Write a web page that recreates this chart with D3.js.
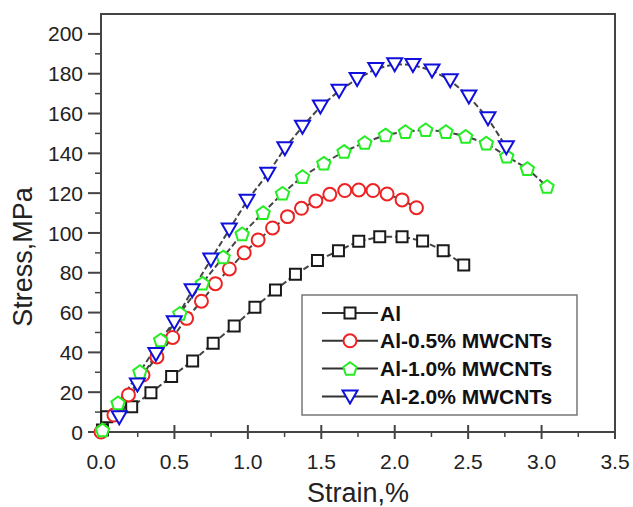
<!DOCTYPE html>
<html>
<head>
<meta charset="UTF-8">
<title>Stress-strain curves</title>
<script src="https://d3js.org/d3.v7.min.js"></script>
<style>
  html, body { margin: 0; padding: 0; background: #fff; }
  svg { display: block; font-family: 'Liberation Sans', Arial, sans-serif; }
  .tick-label { font-size: 21px; fill: #222; }
  .axis-title { font-size: 27px; fill: #222; }
  .legend-text { font-size: 21px; font-weight: bold; fill: #111; }
</style>
</head>
<body>
<svg id="chart" width="633" height="507"></svg>
<script>
// --- data ---
const xTicks = [0.0, 0.5, 1.0, 1.5, 2.0, 2.5, 3.0, 3.5];
const yTicks = [0, 20, 40, 60, 80, 100, 120, 140, 160, 180, 200];

const alStrain = [0.01, 0.039, 0.209, 0.34, 0.481, 0.624, 0.764, 0.907, 1.048, 1.188, 1.324, 1.474, 1.617, 1.755, 1.898, 2.05, 2.19, 2.33, 2.47];
const alStress = [1, 7.7, 12.7, 19.7, 27.9, 35.7, 44.6, 53.3, 62.7, 71.4, 79.2, 86.1, 91.1, 95.8, 98.1, 98.1, 96.0, 91.1, 83.9];

const al05Strain = [0.0, 0.088, 0.187, 0.286, 0.381, 0.488, 0.583, 0.684, 0.779, 0.874, 0.975, 1.07, 1.168, 1.27, 1.365, 1.463, 1.558, 1.66, 1.755, 1.852, 1.948, 2.05, 2.148];
const al05Stress = [0, 8.5, 18.6, 28.6, 37.7, 47.5, 57.1, 65.7, 74.5, 81.9, 90.0, 96.5, 102.5, 108.2, 112.4, 116.1, 119.4, 121.3, 121.6, 121.3, 119.6, 116.6, 112.7];

const al10Strain = [0.01, 0.116, 0.265, 0.406, 0.537, 0.69, 0.832, 0.961, 1.104, 1.236, 1.372, 1.517, 1.655, 1.796, 1.937, 2.073, 2.211, 2.349, 2.483, 2.624, 2.763, 2.903, 3.037];
const al10Stress = [1, 14.6, 30.3, 46.2, 59.6, 74.7, 87.9, 99.5, 110.2, 119.9, 128.3, 135.0, 140.9, 145.4, 149.2, 150.9, 151.8, 150.9, 148.5, 145.1, 138.5, 132.3, 123.3];

const al20Strain = [0.124, 0.248, 0.374, 0.499, 0.621, 0.748, 0.873, 0.995, 1.136, 1.252, 1.372, 1.494, 1.621, 1.744, 1.871, 2.0, 2.124, 2.254, 2.378, 2.505, 2.635, 2.76];
const al20Stress = [7.4, 23.9, 39.2, 55.2, 71.2, 86.6, 101.7, 116.2, 129.8, 142.6, 153.4, 163.5, 171.4, 177.4, 182.4, 184.8, 184.4, 181.6, 176.7, 168.5, 157.6, 143.1];

const seriesNames = ["Al", "Al-0.5% MWCNTs", "Al-1.0% MWCNTs", "Al-2.0% MWCNTs"];
const seriesColors = ["#1a1a1a", "#ee2222", "#22ee22", "#1010dd"];
const seriesShapes = ["square", "circle", "pentagon", "triangleDown"];

const series = [
  { x: alStrain, y: alStress },
  { x: al05Strain, y: al05Stress },
  { x: al10Strain, y: al10Stress },
  { x: al20Strain, y: al20Stress }
].map((s, i) => ({
  name: seriesNames[i], color: seriesColors[i], shape: seriesShapes[i],
  points: s.x.map((v, j) => [v, s.y[j]])
}));

// --- layout ---
const svg = d3.select("#chart");
const plotLeft = 101, plotRight = 615, plotTop = 14, plotBottom = 432;

const x = d3.scaleLinear().domain([0, 3.5]).range([plotLeft, plotRight]);
const y = d3.scaleLinear().domain([0, 210]).range([plotBottom, plotTop]);

// marker shapes
function markerPath(shape) {
  if (shape === "square") return "M-5.5,-5.5H5.5V5.5H-5.5Z";
  if (shape === "circle") return d3.symbol(d3.symbolCircle, Math.PI * 42)();
  if (shape === "pentagon") {
    const r = 7;
    return d3.line()(d3.range(5).map(k => {
      const a = -Math.PI / 2 + k * 2 * Math.PI / 5;
      return [r * Math.cos(a), r * Math.sin(a) + 0.6];
    })) + "Z";
  }
  return "M-7.5,-6L7.5,-6L0,7Z";
}

// --- frame and axes ---
const axisColor = "#444";
svg.append("rect")
  .attr("x", plotLeft).attr("y", plotTop)
  .attr("width", plotRight - plotLeft).attr("height", plotBottom - plotTop)
  .attr("fill", "none").attr("stroke", axisColor).attr("stroke-width", 2);

// x ticks
const xMinor = d3.range(0.25, 3.5, 0.5);
svg.append("g").selectAll("line").data(xTicks).join("line")
  .attr("x1", d => x(d)).attr("x2", d => x(d))
  .attr("y1", plotBottom - 7).attr("y2", plotBottom + 7)
  .attr("stroke", axisColor).attr("stroke-width", 2);
svg.append("g").selectAll("line").data(xMinor).join("line")
  .attr("x1", d => x(d)).attr("x2", d => x(d))
  .attr("y1", plotBottom).attr("y2", plotBottom + 5)
  .attr("stroke", axisColor).attr("stroke-width", 1.5);
svg.append("g").selectAll("text").data(xTicks).join("text")
  .attr("class", "tick-label")
  .attr("x", d => x(d)).attr("y", 469)
  .attr("text-anchor", "middle")
  .text(d => d.toFixed(1));

// y ticks
const yMinor = d3.range(10, 210, 20);
svg.append("g").selectAll("line").data(yTicks).join("line")
  .attr("x1", plotLeft - 13).attr("x2", plotLeft)
  .attr("y1", d => y(d)).attr("y2", d => y(d))
  .attr("stroke", axisColor).attr("stroke-width", 2);
svg.append("g").selectAll("line").data(yMinor).join("line")
  .attr("x1", plotLeft - 6).attr("x2", plotLeft)
  .attr("y1", d => y(d)).attr("y2", d => y(d))
  .attr("stroke", axisColor).attr("stroke-width", 1.5);
svg.append("g").selectAll("text").data(yTicks).join("text")
  .attr("class", "tick-label")
  .attr("x", 83).attr("y", d => y(d))
  .attr("dy", "0.36em")
  .attr("text-anchor", "end")
  .text(d => d);

// axis titles
svg.append("text").attr("class", "axis-title")
  .attr("x", 358).attr("y", 502)
  .attr("text-anchor", "middle")
  .text("Strain,%");
svg.append("text").attr("class", "axis-title")
  .attr("transform", "translate(32,257) rotate(-90)")
  .attr("text-anchor", "middle")
  .text("Stress,MPa");

// --- curves ---
const line = d3.line().x(d => x(d[0])).y(d => y(d[1]));
const plot = svg.append("g");
series.forEach(s => {
  plot.append("path").datum(s.points)
    .attr("d", line)
    .attr("fill", "none")
    .attr("stroke", "#444")
    .attr("stroke-width", 2)
    .attr("stroke-dasharray", "6,3");
});
series.forEach(s => {
  plot.append("g").selectAll("path").data(s.points).join("path")
    .attr("transform", d => `translate(${x(d[0])},${y(d[1])})`)
    .attr("d", markerPath(s.shape))
    .attr("fill", "#fff")
    .attr("stroke", s.color)
    .attr("stroke-width", 2);
});

// --- legend ---
const legend = svg.append("g");
legend.append("rect")
  .attr("x", 302).attr("y", 295).attr("width", 275).attr("height", 120)
  .attr("fill", "#fff").attr("stroke", "#777").attr("stroke-width", 1.5);
series.forEach((s, i) => {
  const ly = 313 + i * 27.8;
  legend.append("line")
    .attr("x1", 322).attr("x2", 378).attr("y1", ly).attr("y2", ly)
    .attr("stroke", "#333").attr("stroke-width", 2);
  legend.append("path")
    .attr("transform", `translate(350,${ly})`)
    .attr("d", markerPath(s.shape))
    .attr("fill", "#fff").attr("stroke", s.color).attr("stroke-width", 2);
  legend.append("text").attr("class", "legend-text")
    .attr("x", 380).attr("y", ly).attr("dy", "0.36em")
    .text(s.name);
});
</script>
</body>
</html>
